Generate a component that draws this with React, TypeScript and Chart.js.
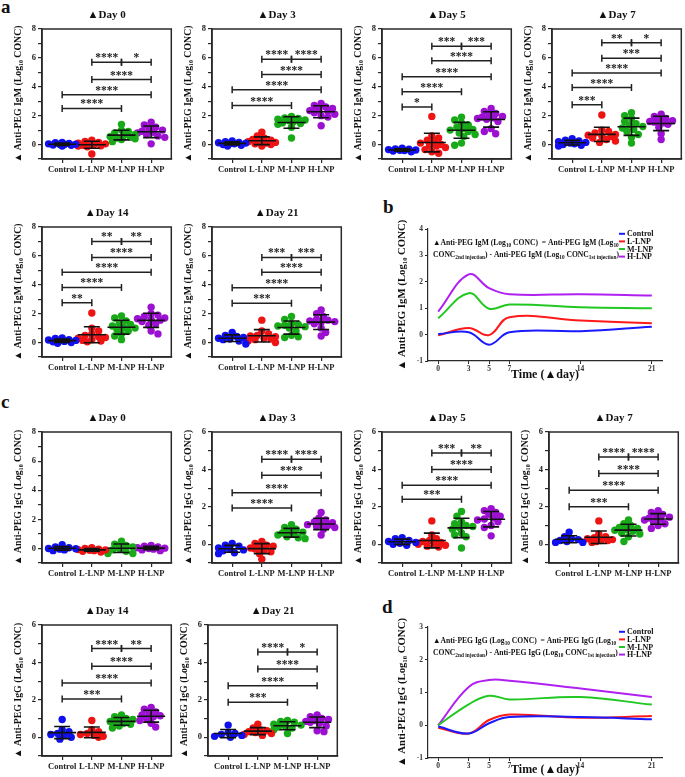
import React, { useEffect, useRef } from 'react';
import { Chart, registerables } from 'chart.js';
Chart.register(...registerables);

const SERIF = "'Liberation Serif', 'Times New Roman', 'DejaVu Serif', serif";
Chart.defaults.font.family = SERIF;

const GROUPS = ['Control', 'L-LNP', 'M-LNP', 'H-LNP'];
const DOT_COLORS = ['#1010ee', '#ee1414', '#18aa18', '#9c10d2'];
const LINE_COLORS = ['#1a1aff', '#ff1a1a', '#22c822', '#b020f0'];

// ---------- IgM (a) ----------
const IGM_D0 = [
  [0.12, 0.05, 0.0, -0.05, 0.08, -0.1, 0.02, 0.15, -0.03, 0.0],
  [0.3, 0.22, 0.15, 0.1, 0.05, 0.0, -0.05, -0.1, -0.15, 0.02, -0.08, -0.65],
  [1.4, 1.0, 0.9, 0.8, 0.7, 0.62, 0.55, 0.5, 0.45, 0.4, 0.35, 0.2],
  [1.55, 1.35, 1.2, 1.1, 1.0, 0.92, 0.85, 0.8, 0.7, 0.6, 0.5, 0.05],
];
const IGM_D3 = [
  [0.25, 0.2, 0.15, 0.1, 0.05, 0.0, -0.05, -0.1, 0.12, 0.08],
  [0.85, 0.6, 0.45, 0.35, 0.3, 0.25, 0.2, 0.15, 0.1, 0.05, 0.0, -0.1],
  [1.95, 1.85, 1.8, 1.75, 1.7, 1.65, 1.6, 1.5, 1.45, 1.4, 1.2, 0.45],
  [2.85, 2.7, 2.6, 2.5, 2.4, 2.35, 2.3, 2.2, 2.1, 2.0, 1.9, 1.3],
];
const IGM_D5 = [
  [-0.25, -0.3, -0.35, -0.4, -0.42, -0.45, -0.5, -0.38, -0.33],
  [1.95, 0.6, 0.45, 0.3, 0.2, 0.1, 0.0, -0.05, -0.1, -0.2, -0.35, -0.5, -0.6],
  [1.9, 1.7, 1.5, 1.35, 1.2, 1.1, 1.05, 1.0, 0.9, 0.8, 0.7, 0.55, 0.1, -0.05],
  [2.5, 2.3, 2.15, 2.05, 1.95, 1.9, 1.85, 1.8, 1.75, 1.6, 1.1, 0.9, 0.75],
];
const IGM_D7 = [
  [0.4, 0.3, 0.25, 0.2, 0.1, 0.05, 0.0, -0.05, -0.1, 0.15],
  [2.05, 1.0, 0.9, 0.8, 0.7, 0.65, 0.6, 0.55, 0.45, 0.35, 0.25, 0.15],
  [2.2, 2.0, 1.8, 1.6, 1.45, 1.35, 1.25, 1.15, 1.05, 0.9, 0.7, 0.5, 0.1],
  [2.1, 1.95, 1.8, 1.7, 1.65, 1.6, 1.55, 1.5, 1.4, 1.2, 0.75, 0.35],
];
const IGM_D14 = [
  [0.32, 0.28, 0.2, 0.15, 0.12, 0.08, 0.05, 0.0, -0.05, 0.18],
  [2.05, 1.0, 0.8, 0.6, 0.5, 0.4, 0.35, 0.3, 0.2, 0.15, 0.1, 0.05],
  [1.85, 1.7, 1.5, 1.35, 1.25, 1.15, 1.05, 1.0, 0.9, 0.8, 0.6, 0.45, 0.2],
  [2.45, 2.0, 1.9, 1.8, 1.7, 1.65, 1.6, 1.55, 1.45, 1.3, 1.2, 0.8, 0.6],
];
const IGM_D21 = [
  [0.7, 0.5, 0.42, 0.35, 0.3, 0.25, 0.2, 0.1, -0.1],
  [1.55, 0.8, 0.6, 0.5, 0.45, 0.4, 0.3, 0.25, 0.2, 0.1, 0.0],
  [1.8, 1.6, 1.3, 1.25, 1.2, 1.15, 1.1, 1.0, 0.8, 0.5, 0.4, 0.35],
  [2.25, 2.0, 1.8, 1.6, 1.55, 1.5, 1.45, 1.4, 1.3, 1.0, 0.7, 0.45],
];

// ---------- IgG (c) ----------
const IGG_D0 = [
  [0.25, 0.1, 0.05, 0.0, -0.02, -0.05, -0.1, -0.15],
  [0.05, 0.0, -0.05, -0.08, -0.1, -0.12, -0.15, -0.2, -0.25],
  [0.5, 0.3, 0.2, 0.1, 0.0, -0.1, -0.2, -0.35, -0.35],
  [0.2, 0.15, 0.1, 0.05, 0.02, 0.0, -0.05, -0.1, -0.15],
];
const IGG_D3 = [
  [0.05, -0.05, -0.1, -0.2, -0.25, -0.3, -0.35, -0.45, -0.5],
  [0.15, 0.05, -0.05, -0.1, -0.15, -0.2, -0.25, -0.3, -0.4, -0.5, -0.8],
  [1.05, 0.9, 0.8, 0.7, 0.65, 0.6, 0.55, 0.5, 0.4, 0.35, 0.3],
  [1.7, 1.4, 1.3, 1.2, 1.15, 1.1, 1.05, 1.0, 0.95, 0.9, 0.8, 0.5],
];
const IGG_D5 = [
  [0.35, 0.3, 0.2, 0.15, 0.1, 0.05, 0.0, -0.05],
  [1.25, 0.5, 0.3, 0.2, 0.15, 0.1, 0.05, 0.0, -0.05, -0.1, -0.15],
  [1.75, 1.5, 1.2, 1.1, 1.0, 0.95, 0.9, 0.8, 0.6, 0.5, 0.4, -0.2],
  [1.9, 1.8, 1.7, 1.6, 1.5, 1.4, 1.35, 1.3, 1.2, 1.0, 0.9, 0.45],
];
const IGG_D7 = [
  [0.65, 0.4, 0.3, 0.25, 0.2, 0.15, 0.1, 0.1],
  [1.25, 0.55, 0.4, 0.35, 0.3, 0.25, 0.2, 0.2, 0.15, 0.1],
  [1.3, 1.1, 1.0, 0.9, 0.85, 0.8, 0.75, 0.7, 0.6, 0.55, 0.4, 0.15],
  [1.8, 1.7, 1.6, 1.5, 1.45, 1.4, 1.35, 1.3, 1.2, 1.1, 1.0, 0.85],
];
const IGG_D14 = [
  [0.95, 0.4, 0.3, 0.2, 0.15, 0.1, 0.0, -0.1],
  [0.9, 0.4, 0.3, 0.2, 0.15, 0.1, 0.05, 0.0],
  [1.2, 1.1, 1.0, 0.95, 0.9, 0.85, 0.8, 0.75, 0.7, 0.6, 0.5],
  [1.6, 1.5, 1.35, 1.3, 1.2, 1.15, 1.1, 1.0, 0.9, 0.75, 0.55],
];
const IGG_D21 = [
  [0.65, 0.25, 0.2, 0.15, 0.1, 0.05, 0.0],
  [0.7, 0.5, 0.4, 0.35, 0.3, 0.25, 0.2, 0.15, 0.1],
  [0.9, 0.85, 0.8, 0.7, 0.65, 0.6, 0.55, 0.5, 0.4, 0.2],
  [1.2, 1.1, 1.0, 0.95, 0.9, 0.85, 0.8, 0.75, 0.6, 0.35, 0.3],
];

// significance brackets: [groupFrom, groupTo, level, stars]
type Sig = [number, number, number, string];
const IGM_D0_SIG: Sig[] = [[0, 2, 2.5, '****'], [0, 3, 3.45, '****'], [1, 3, 4.5, '****'], [1, 2, 5.7, '****'], [2, 3, 5.7, '*']];
const IGM_D3_SIG: Sig[] = [[0, 2, 2.7, '****'], [0, 3, 3.8, '****'], [1, 3, 4.85, '****'], [1, 2, 5.9, '****'], [2, 3, 5.9, '****']];
const IGM_D5_SIG: Sig[] = [[0, 1, 2.6, '*'], [0, 2, 3.65, '****'], [0, 3, 4.7, '****'], [1, 3, 5.8, '****'], [1, 2, 6.8, '***'], [2, 3, 6.8, '***']];
const IGM_D7_SIG: Sig[] = [[0, 1, 2.75, '***'], [0, 2, 3.95, '****'], [0, 3, 4.95, '****'], [1, 3, 5.97, '***'], [1, 2, 7.05, '**'], [2, 3, 7.05, '*']];
const IGM_D14_SIG: Sig[] = [[0, 1, 2.76, '**'], [0, 2, 3.82, '****'], [0, 3, 4.86, '****'], [1, 3, 5.89, '****'], [1, 2, 7.0, '**'], [2, 3, 7.0, '**']];
const IGM_D21_SIG: Sig[] = [[0, 2, 2.72, '***'], [0, 3, 3.79, '****'], [1, 3, 4.86, '****'], [1, 2, 5.89, '***'], [2, 3, 5.89, '***']];
const IGG_D0_SIG: Sig[] = [];
const IGG_D3_SIG: Sig[] = [[0, 2, 1.94, '****'], [0, 3, 2.76, '****'], [1, 3, 3.69, '****'], [1, 2, 4.55, '****'], [2, 3, 4.55, '****']];
const IGG_D5_SIG: Sig[] = [[0, 2, 2.4, '***'], [0, 3, 3.15, '****'], [1, 3, 4.0, '****'], [1, 2, 4.88, '***'], [2, 3, 4.88, '**']];
const IGG_D7_SIG: Sig[] = [[0, 2, 2.0, '***'], [0, 3, 2.89, '****'], [1, 3, 3.78, '****'], [1, 2, 4.67, '****'], [2, 3, 4.67, '****']];
const IGG_D14_SIG: Sig[] = [[0, 2, 2.05, '***'], [0, 3, 2.9, '****'], [1, 3, 3.79, '****'], [1, 2, 4.74, '****'], [2, 3, 4.74, '**']];
const IGG_D21_SIG: Sig[] = [[0, 2, 1.87, '***'], [0, 3, 2.76, '****'], [1, 3, 3.65, '****'], [1, 2, 4.56, '****'], [2, 3, 4.56, '*']];

// ---------- delta curves (b, d) ----------
const DAYS = [0, 3, 5, 7, 14, 21];
const IGM_DELTA_CONTROL = [0.02, 0.09, -0.38, 0.09, 0.13, 0.3];
const IGM_DELTA_L = [-0.03, 0.25, -0.02, 0.66, 0.53, 0.43];
const IGM_DELTA_M = [0.62, 1.57, 0.98, 1.14, 1.04, 1.0];
const IGM_DELTA_H = [0.87, 2.28, 1.76, 1.53, 1.53, 1.48];
const IGG_DELTA_CONTROL = [-0.04, -0.25, 0.06, 0.25, 0.25, 0.18];
const IGG_DELTA_L = [-0.08, -0.25, 0.16, 0.33, 0.23, 0.28];
const IGG_DELTA_M = [0.0, 0.64, 0.9, 0.79, 0.86, 0.63];
const IGG_DELTA_H = [0.0, 1.17, 1.38, 1.36, 1.12, 0.86];

const IGM_LABEL = '▲ Anti-PEG IgM (Log₁₀ CONC)';
const IGG_LABEL = '▲ Anti-PEG IgG (Log₁₀ CONC)';

type Seg = [string, number];
const IGM_NOTE: Seg[][] = [
  [['▲Anti-PEG IgM (Log', 0], ['10', 1], [' CONC)  = Anti-PEG IgM (Log', 0], ['10', 1]],
  [['CONC', 0], ['2nd injection', 1], [') - Anti-PEG IgM (Log', 0], ['10', 1], [' CONC', 0], ['1st injection', 1], [')', 0]],
];
const IGG_NOTE: Seg[][] = [
  [['▲Anti-PEG IgG (Log', 0], ['10', 1], [' CONC)  = Anti-PEG IgG (Log', 0], ['10', 1]],
  [['CONC', 0], ['2nd injection', 1], [') - Anti-PEG IgG (Log', 0], ['10', 1], [' CONC', 0], ['1st injection', 1], [')', 0]],
];

const PLOT_W = 131;
const AXIS_W = 42;
const TOP_PAD = 24;
const XAX_H = 20;

function meanSd(v: number[]) {
  const m = v.reduce((a, b) => a + b, 0) / v.length;
  const s = Math.sqrt(v.reduce((a, b) => a + (b - m) * (b - m), 0) / (v.length - 1));
  return [m, s];
}

function swarm(vals: number[], yPx: number, xPx: number): number[] {
  const r = 3.7;
  const minD = 2 * r * 0.78;
  const order = vals.map((_, i) => i).sort((a, b) => vals[b] - vals[a]);
  const placed: { x: number; y: number }[] = [];
  const out = new Array(vals.length).fill(0);
  let flip = 1;
  for (const i of order) {
    const y = vals[i] * yPx;
    let best = 0;
    let bestScore = -1;
    let found = false;
    for (let k = 0; k <= 6 && !found; k++) {
      const signs = k === 0 ? [1] : [flip, -flip];
      for (const s of signs) {
        const x = s * k * 2.3;
        let md = Infinity;
        for (const p of placed) md = Math.min(md, Math.hypot(p.x - x, p.y - y));
        if (md >= minD) { best = x; found = true; break; }
        if (md > bestScore) { bestScore = md; best = x; }
      }
    }
    flip = -flip;
    placed.push({ x: best, y });
    out[i] = best / xPx;
  }
  return out;
}

interface PanelDef { left: number; top: number; bottom: number; title: string; yMax: number; label: string; data: number[][]; sig: Sig[] }

const PANELS: PanelDef[] = [
  { left: 42, top: 29, bottom: 159, title: '▲Day 0', yMax: 8, label: IGM_LABEL, data: IGM_D0, sig: IGM_D0_SIG },
  { left: 212, top: 29, bottom: 159, title: '▲Day 3', yMax: 8, label: IGM_LABEL, data: IGM_D3, sig: IGM_D3_SIG },
  { left: 382, top: 29, bottom: 159, title: '▲Day 5', yMax: 8, label: IGM_LABEL, data: IGM_D5, sig: IGM_D5_SIG },
  { left: 552, top: 29, bottom: 159, title: '▲Day 7', yMax: 8, label: IGM_LABEL, data: IGM_D7, sig: IGM_D7_SIG },
  { left: 42, top: 227, bottom: 357, title: '▲Day 14', yMax: 8, label: IGM_LABEL, data: IGM_D14, sig: IGM_D14_SIG },
  { left: 212, top: 227, bottom: 357, title: '▲Day 21', yMax: 8, label: IGM_LABEL, data: IGM_D21, sig: IGM_D21_SIG },
  { left: 42, top: 432, bottom: 563, title: '▲Day 0', yMax: 8, label: IGG_LABEL, data: IGG_D0, sig: IGG_D0_SIG },
  { left: 212, top: 432, bottom: 563, title: '▲Day 3', yMax: 6, label: IGG_LABEL, data: IGG_D3, sig: IGG_D3_SIG },
  { left: 382, top: 432, bottom: 563, title: '▲Day 5', yMax: 6, label: IGG_LABEL, data: IGG_D5, sig: IGG_D5_SIG },
  { left: 549, top: 432, bottom: 563, title: '▲Day 7', yMax: 6, label: IGG_LABEL, data: IGG_D7, sig: IGG_D7_SIG },
  { left: 42, top: 625, bottom: 756, title: '▲Day 14', yMax: 6, label: IGG_LABEL, data: IGG_D14, sig: IGG_D14_SIG },
  { left: 208, top: 625, bottom: 756, title: '▲Day 21', yMax: 6, label: IGG_LABEL, data: IGG_D21, sig: IGG_D21_SIG },
];

const AX = '#2a2a2a';

function ScatterPanel({ p }: { p: PanelDef }) {
  const ref = useRef<HTMLCanvasElement>(null);
  const W = AXIS_W + PLOT_W + 2;
  const H = TOP_PAD + (p.bottom - p.top) + XAX_H;
  useEffect(() => {
    const yPx = (p.bottom - p.top) / (p.yMax + 1);
    const xMin = -0.68, xMax = 3.68;
    const xPx = PLOT_W / (xMax - xMin);
    const datasets = p.data.map((vals, g) => {
      const offs = swarm(vals, yPx, xPx);
      return {
        data: vals.map((v, i) => ({ x: g + offs[i], y: v })),
        backgroundColor: DOT_COLORS[g],
        borderWidth: 0,
        pointRadius: 3.7,
        pointHoverRadius: 3.7,
      };
    });
    const decor = {
      id: 'decor',
      afterDatasetsDraw(chart: any) {
        const { ctx, chartArea: a, scales } = chart;
        const x = scales.x, y = scales.y;
        ctx.save();
        ctx.strokeStyle = '#111';
        ctx.lineWidth = 1.6;
        p.data.forEach((vals, g) => {
          const [m, s] = meanSd(vals);
          const cx = x.getPixelForValue(g);
          const yt = y.getPixelForValue(m + s), yb = y.getPixelForValue(m - s), ym = y.getPixelForValue(m);
          ctx.beginPath();
          ctx.moveTo(cx, yt); ctx.lineTo(cx, yb);
          ctx.moveTo(cx - 8, yt); ctx.lineTo(cx + 8, yt);
          ctx.moveTo(cx - 8, yb); ctx.lineTo(cx + 8, yb);
          ctx.moveTo(cx - 14, ym); ctx.lineTo(cx + 14, ym);
          ctx.stroke();
        });
        ctx.strokeStyle = '#222';
        ctx.fillStyle = '#222';
        ctx.lineWidth = 1.5;
        ctx.textAlign = 'center';
        ctx.textBaseline = 'alphabetic';
        ctx.font = `bold 11.5px ${SERIF}`;
        p.sig.forEach(([g1, g2, lv, t]) => {
          const x1 = x.getPixelForValue(g1), x2 = x.getPixelForValue(g2), yy = y.getPixelForValue(lv);
          ctx.beginPath();
          ctx.moveTo(x1, yy); ctx.lineTo(x2, yy);
          ctx.moveTo(x1, yy - 3.5); ctx.lineTo(x1, yy + 3.5);
          ctx.moveTo(x2, yy - 3.5); ctx.lineTo(x2, yy + 3.5);
          ctx.stroke();
          ctx.fillText(t, (x1 + x2) / 2, yy - 1);
        });
        ctx.strokeStyle = AX;
        ctx.lineWidth = 1.5;
        ctx.strokeRect(a.left, a.top, a.right - a.left, a.bottom - a.top);
        ctx.fillStyle = '#111';
        ctx.textBaseline = 'middle';
        ctx.font = `bold 11px ${SERIF}`;
        ctx.fillText(p.title, (a.left + a.right) / 2, a.top - 14);
        ctx.restore();
      },
    };
    const chart = new Chart(ref.current as HTMLCanvasElement, {
      type: 'scatter',
      data: { datasets } as any,
      options: {
        animation: false,
        responsive: false,
        maintainAspectRatio: false,
        events: [],
        layout: { padding: { top: TOP_PAD, right: 2, left: 0, bottom: 0 } },
        plugins: { legend: { display: false }, tooltip: { enabled: false }, title: { display: false } },
        scales: {
          x: {
            type: 'linear', min: xMin, max: xMax,
            afterBuildTicks: (s: any) => { s.ticks = [0, 1, 2, 3].map((v) => ({ value: v })); },
            afterFit: (s: any) => { s.height = XAX_H; },
            ticks: { callback: (v: any) => GROUPS[Math.round(v)], font: { family: SERIF, size: 8.5, weight: 'bold' }, color: '#222', padding: 2, maxRotation: 0, autoSkip: false },
            grid: { drawOnChartArea: false, drawTicks: true, tickLength: 4, color: AX, lineWidth: 1.2 },
            border: { display: true, color: AX, width: 1.5 },
          },
          y: {
            type: 'linear', min: -1, max: p.yMax,
            afterFit: (s: any) => { s.width = AXIS_W; },
            ticks: { stepSize: 1, callback: (v: any) => (Math.round(v) % 2 === 0 ? String(v) : ''), font: { family: SERIF, size: 8.5, weight: 'bold' }, color: '#222', padding: 2 },
            grid: { drawOnChartArea: false, drawTicks: true, tickLength: 4, color: AX, lineWidth: 1.2 },
            border: { display: true, color: AX, width: 1.5 },
            title: { display: true, text: p.label, font: { family: SERIF, size: 9.8, weight: 'bold' }, color: '#111', padding: { top: 13, bottom: 0 } },
          },
        },
      } as any,
      plugins: [decor],
    });
    return () => chart.destroy();
  }, []);
  return (
    <canvas ref={ref} width={W} height={H}
      style={{ position: 'absolute', left: p.left - AXIS_W, top: p.top - TOP_PAD, width: W, height: H }} />
  );
}

interface LineDef { left: number; top: number; bottom: number; right: number; yMin: number; yMax: number; label: string; series: number[][]; note: Seg[][]; xH: number }

const LINES: LineDef[] = [
  { left: 428, right: 662, top: 229, bottom: 361, yMin: -1, yMax: 4, label: IGM_LABEL, series: [IGM_DELTA_CONTROL, IGM_DELTA_L, IGM_DELTA_M, IGM_DELTA_H], note: IGM_NOTE, xH: 21 },
  { left: 428, right: 662, top: 627, bottom: 758, yMin: -1, yMax: 3, label: IGG_LABEL, series: [IGG_DELTA_CONTROL, IGG_DELTA_L, IGG_DELTA_M, IGG_DELTA_H], note: IGG_NOTE, xH: 19 },
];

function LinePanel({ p }: { p: LineDef }) {
  const ref = useRef<HTMLCanvasElement>(null);
  const YW = 48, PT = 14, PR = 8;
  const W = YW + (p.right - p.left) + PR;
  const H = PT + (p.bottom - p.top) + p.xH;
  useEffect(() => {
    const decor = {
      id: 'decor2',
      afterDraw(chart: any) {
        const { ctx, chartArea: a } = chart;
        ctx.save();
        ctx.textAlign = 'left';
        ctx.textBaseline = 'middle';
        ctx.font = `bold 8px ${SERIF}`;
        GROUPS.forEach((g, k) => {
          const yy = a.top + 4.8 + k * 7.6;
          ctx.strokeStyle = LINE_COLORS[k];
          ctx.lineWidth = 2;
          ctx.beginPath();
          ctx.moveTo(a.right - 43, yy); ctx.lineTo(a.right - 37, yy);
          ctx.stroke();
          ctx.fillStyle = '#111';
          ctx.fillText(g, a.right - 35, yy + 0.5);
        });
        ctx.textBaseline = 'alphabetic';
        ctx.fillStyle = '#111';
        const size = 7.6;
        p.note.forEach((line, li) => {
          let cx = a.left + 5;
          const by = a.top + 16 + li * 12;
          line.forEach(([t, sub]) => {
            const fs = sub ? size * 0.7 : size;
            ctx.font = `bold ${fs}px ${SERIF}`;
            ctx.fillText(t, cx, sub ? by + 2.2 : by);
            cx += ctx.measureText(t).width;
          });
        });
        ctx.restore();
      },
    };
    const chart = new Chart(ref.current as HTMLCanvasElement, {
      type: 'line',
      data: {
        datasets: p.series.map((vals, k) => ({
          label: GROUPS[k],
          data: DAYS.map((d, i) => ({ x: d, y: vals[i] })),
          borderColor: LINE_COLORS[k],
          backgroundColor: LINE_COLORS[k],
          borderWidth: 2,
          pointRadius: 0,
          tension: 0.4,
          fill: false,
        })),
      } as any,
      options: {
        animation: false,
        responsive: false,
        maintainAspectRatio: false,
        events: [],
        layout: { padding: { top: PT, right: PR, left: 0, bottom: 0 } },
        plugins: { legend: { display: false }, tooltip: { enabled: false } },
        scales: {
          x: {
            type: 'linear', min: -1, max: 22,
            afterBuildTicks: (s: any) => { s.ticks = DAYS.map((v) => ({ value: v })); },
            afterFit: (s: any) => { s.height = p.xH; },
            ticks: { font: { family: SERIF, size: 7.5, weight: 'bold' }, color: '#333', padding: 1, maxRotation: 0, autoSkip: false },
            grid: { drawOnChartArea: false, drawTicks: true, tickLength: 3, color: AX, lineWidth: 1 },
            border: { display: true, color: AX, width: 1.2 },
            title: { display: true, text: 'Time (▲day)', font: { family: SERIF, size: 12, weight: 'bold' }, color: '#111', padding: 0 },
          },
          y: {
            type: 'linear', min: p.yMin, max: p.yMax,
            afterFit: (s: any) => { s.width = YW; },
            ticks: { stepSize: 1, font: { family: SERIF, size: 7.5, weight: 'bold' }, color: '#333', padding: 2 },
            grid: { drawOnChartArea: false, drawTicks: true, tickLength: 3, color: AX, lineWidth: 1 },
            border: { display: true, color: AX, width: 1.2 },
            title: { display: true, text: p.label, font: { family: SERIF, size: 10.8, weight: 'bold' }, color: '#111', padding: { top: 16, bottom: 0 } },
          },
        },
      } as any,
      plugins: [decor],
    });
    return () => chart.destroy();
  }, []);
  return (
    <canvas ref={ref} width={W} height={H}
      style={{ position: 'absolute', left: p.left - YW, top: p.top - PT, width: W, height: H }} />
  );
}

const LETTERS: [string, number, number][] = [['a', 1, -3], ['b', 383, 197], ['c', 1, 392], ['d', 382, 597]];

export default function App() {
  return (
    <div style={{ position: 'fixed', left: 0, top: 0, width: 685, height: 777, overflow: 'hidden', background: '#fff' }}>
      {LETTERS.map(([t, x, y]) => (
        <div key={t} style={{ position: 'absolute', left: x, top: y, fontFamily: SERIF, fontWeight: 'bold', fontSize: 19, lineHeight: '19px', color: '#111' }}>{t}</div>
      ))}
      {PANELS.map((p, i) => <ScatterPanel key={i} p={p} />)}
      {LINES.map((p, i) => <LinePanel key={'l' + i} p={p} />)}
    </div>
  );
}
